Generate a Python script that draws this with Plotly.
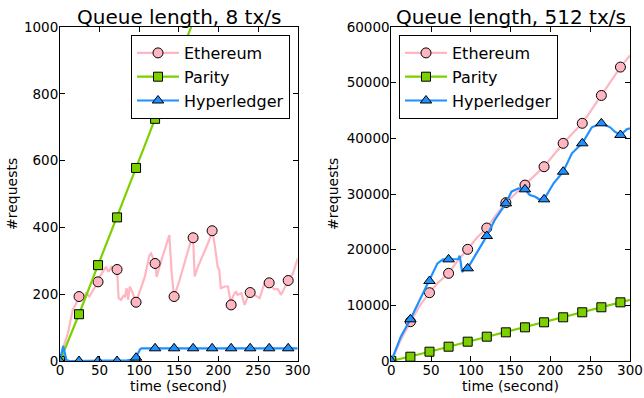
import plotly.graph_objects as go

# ---------------- data ----------------
# Left panel: 8 tx/s
eth8_t = [0, 4, 10, 16, 20, 24, 27, 30, 33, 37, 42, 45, 48, 50, 54, 58, 61, 65, 68, 72, 74, 77, 80, 82, 84, 86, 88, 91, 96,
          100, 107, 113, 115, 120, 122, 128, 134, 138, 141, 144, 150, 155, 160, 166, 168, 170, 174, 180, 184, 188, 192,
          195, 199, 201, 203, 208, 212, 216, 218, 222, 224, 229, 233, 237, 240, 245, 252, 258, 264, 270, 275, 279, 283,
          288, 294, 300]
eth8_v = [5, 40, 83, 153, 170, 193, 183, 190, 203, 193, 213, 225, 237, 252, 267, 282, 267, 282, 278, 274, 188, 183, 195, 193,
          218, 183, 223, 208, 176, 203, 252, 317, 322, 292, 252, 302, 345, 377, 260, 193, 235, 277, 320, 366, 369, 253, 282,
          312, 337, 360, 390, 352, 282, 272, 218, 223, 223, 168, 193, 208, 198, 203, 168, 193, 205, 198, 188, 233, 234, 215,
          215, 198, 218, 241, 262, 307]

par8_t = [0, 24, 48, 72, 96, 120, 144, 168]
par8_v = [0, 140, 287, 430, 578, 725, 870, 1015]

hyp8_t = [0, 2, 4, 6, 8, 12, 24, 48, 72, 85, 90, 94, 96, 98, 101, 103, 120, 144, 168, 192, 216, 240, 264, 288, 300]
hyp8_v = [0, 20, 45, 25, 3, 0, 0, 0, 0, 2, 4, 6, 10, 20, 35, 38, 38, 38, 38, 38, 38, 38, 38, 38, 38]

# Right panel: 512 tx/s
eth512_t = [0, 5, 12, 24, 36, 48, 58, 72, 84, 96, 107, 120, 130, 144, 156, 168, 180, 192, 204, 216, 228, 240, 252, 264,
            276, 288, 300]
eth512_v = [0, 1500, 3800, 7060, 10000, 12270, 13960, 15750, 18140, 20060, 22040, 23890, 25930, 28440, 30000, 31600,
            33300, 34900, 37000, 39100, 40900, 42700, 45200, 47700, 50300, 52800, 54900]

par512_t = [0, 24, 48, 72, 96, 120, 144, 168, 192, 216, 240, 264, 288, 300]
par512_v = [0, 770, 1670, 2570, 3470, 4370, 5150, 6050, 6950, 7850, 8750, 9650, 10540, 11000]

hyp512_t = [0, 12, 24, 36, 48, 58, 65, 72, 84, 86, 89, 92, 96, 107, 120, 130, 144, 151, 160, 168, 174, 181, 187, 192,
            204, 216, 227, 240, 252, 264, 275, 281, 288, 296, 300]
hyp512_v = [0, 4370, 7490, 10960, 14370, 17540, 18260, 18260, 18320, 18900, 16000, 16500, 16650, 19340, 22450, 25330,
            28320, 30420, 31020, 30840, 29820, 29510, 28920, 29040, 31920, 34010, 37310, 39100, 41980, 42700, 41980,
            41190, 40600, 41620, 41800]

series_names = ["Ethereum", "Parity", "Hyperledger"]
marker_every = 24
titles = ["Queue length, 8 tx/s", "Queue length, 512 tx/s"]
x_ticks = [0, 50, 100, 150, 200, 250, 300]
y_ticks_left = [0, 200, 400, 600, 800, 1000]
y_ticks_right = [0, 10000, 20000, 30000, 40000, 50000, 60000]
x_label = "time (second)"
y_label = "#requests"

# ---------------- style ----------------
FONT = "DejaVu Sans"
colors = {"Ethereum": "#ffb6c1", "Parity": "#7cd000", "Hyperledger": "#1e90ff"}
symbols = {"Ethereum": "circle", "Parity": "square", "Hyperledger": "triangle-up"}
msize = {"Ethereum": 10, "Parity": 9, "Hyperledger": 10}

W, H = 644, 398
xdom = [[60 / W, 297.7 / W], [391.3 / W, 630 / W]]
ydom = [1 - 361 / H, 1 - 27 / H]

fig = go.Figure()

panels = [
    ("x", "y", "legend", [(eth8_t, eth8_v), (par8_t, par8_v), (hyp8_t, hyp8_v)]),
    ("x2", "y2", "legend2", [(eth512_t, eth512_v), (par512_t, par512_v), (hyp512_t, hyp512_v)]),
]

for xa, ya, lg, data in panels:
    for name, (tt, vv) in zip(series_names, data):
        c = colors[name]
        fig.add_trace(go.Scatter(x=tt, y=vv, xaxis=xa, yaxis=ya, mode="lines",
                                 line=dict(color=c, width=2.2), showlegend=False, hoverinfo="skip"))
        mt = [t for t in tt if t % marker_every == 0]
        mv = [v for t, v in zip(tt, vv) if t % marker_every == 0]
        fig.add_trace(go.Scatter(x=mt, y=mv, xaxis=xa, yaxis=ya, mode="markers",
                                 marker=dict(symbol=symbols[name], size=msize[name], color=c,
                                             line=dict(color="black", width=1)),
                                 showlegend=False))
    for name in series_names:
        c = colors[name]
        fig.add_trace(go.Scatter(x=[None], y=[None], xaxis=xa, yaxis=ya, mode="lines+markers", name=name,
                                 legend=lg, line=dict(color=c, width=2.2),
                                 marker=dict(symbol=symbols[name], size=msize[name], color=c,
                                             line=dict(color="black", width=1))))

axis_common = dict(showline=True, linecolor="black", linewidth=1, mirror="ticks", ticks="inside",
                   ticklen=5, tickcolor="black", tickwidth=1, showgrid=False, zeroline=False,
                   tickfont=dict(family=FONT, size=13.5, color="black"), fixedrange=True,
                   automargin=False)
xaxis_common = dict(axis_common, ticklabelstandoff=-3)
yaxis_common = dict(axis_common, ticklabelstandoff=-2)

fig.update_layout(
    width=W, height=H, margin=dict(l=0, r=0, t=0, b=0, pad=0, autoexpand=False),
    paper_bgcolor="white", plot_bgcolor="white",
    font=dict(family=FONT, color="black"),
    xaxis=dict(domain=xdom[0], range=[0, 300], tickvals=x_ticks, anchor="y", **xaxis_common),
    yaxis=dict(domain=ydom, range=[0, 1000], tickvals=y_ticks_left, anchor="x", **yaxis_common),
    xaxis2=dict(domain=xdom[1], range=[0, 300], tickvals=x_ticks, anchor="y2", **xaxis_common),
    yaxis2=dict(domain=ydom, range=[0, 60000], tickvals=y_ticks_right, tickformat="d", anchor="x2",
                **yaxis_common),
    legend=dict(x=290 / W, y=1 - 35 / H, xanchor="right", yanchor="top", bgcolor="white",
                bordercolor="black", borderwidth=1, font=dict(family=FONT, size=16), itemwidth=42),
    legend2=dict(x=399 / W, y=1 - 35 / H, xanchor="left", yanchor="top", bgcolor="white",
                 bordercolor="black", borderwidth=1, font=dict(family=FONT, size=16), itemwidth=42),
)

annots = []
for i in range(2):
    cx = (xdom[i][0] + xdom[i][1]) / 2
    annots.append(dict(text=titles[i], x=cx, y=ydom[1], xref="paper", yref="paper", xanchor="center",
                       yanchor="bottom", yshift=-4, showarrow=False, font=dict(family=FONT, size=20)))
    annots.append(dict(text=x_label, x=cx, y=1 - 386 / H, xref="paper", yref="paper", xanchor="center",
                       yanchor="middle", showarrow=False, font=dict(family=FONT, size=14)))
ylab_x = [12 / W, 333 / W]
for i in range(2):
    annots.append(dict(text=y_label, x=ylab_x[i], y=1 - 194 / H, xref="paper", yref="paper", xanchor="center",
                       yanchor="middle", textangle=-90, showarrow=False, font=dict(family=FONT, size=14)))
fig.update_layout(annotations=annots)

fig.write_html("out.html")
